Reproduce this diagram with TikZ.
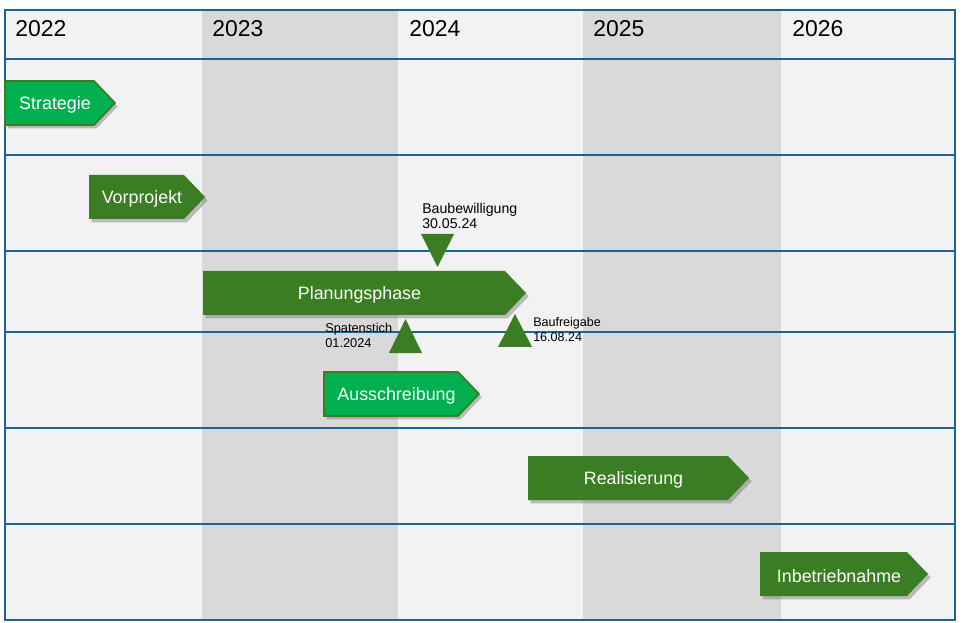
\documentclass[tikz,border=0pt]{standalone}
\usepackage{fontspec}
\setmainfont{Liberation Sans}
\usetikzlibrary{shadows}
\definecolor{bgl}{HTML}{F2F2F2}
\definecolor{bgd}{HTML}{D9D9D9}
\definecolor{gridc}{HTML}{1F6391}
\definecolor{dkgreen}{HTML}{3A7D22}
\definecolor{brgreen}{HTML}{00B050}
\tikzset{
  gridline/.style={draw=gridc, line width=0.8pt},
  year/.style={anchor=base west, inner sep=0pt, font=\fontsize{17.2}{20}\selectfont, text=black},
  bartext/.style={inner sep=0pt, text=white, font=\fontsize{13.4}{15}\selectfont},
  darkbar/.style={fill=dkgreen, drop shadow={shadow xshift=2pt, shadow yshift=-2.5pt, opacity=0.4, fill=black!60}},
  brightbar/.style={fill=brgreen, draw=dkgreen, line width=1.3pt, drop shadow={shadow xshift=2pt, shadow yshift=-2.5pt, opacity=0.4, fill=black!60}},
  milestone/.style={fill=dkgreen},
  mslabel/.style={anchor=base west, inner sep=0pt, align=left, text=black},
}
\newcommand\gbar[6]{%
  \path[#5] (#2,#4) -- ({#3-21},#4) -- (#3,{#4+22}) -- ({#3-21},{#4+44}) -- (#2,{#4+44}) -- cycle;
  \node[bartext] (#1) at ({(#2+#3)/2-5},{#4+24}) {#6};}
\begin{document}
\begin{tikzpicture}[x=0.75pt,y=-0.75pt]
\useasboundingbox (0,0) rectangle (963,623);
% background
\fill[bgl] (5,10) rectangle (955,620);
\fill[bgd] (202,10) rectangle (398,620);
\fill[bgd] (583,10) rectangle (781,620);
\foreach \yy in {59,155,251,332,428,524}
  \draw[gridline] (5,\yy) -- (955,\yy);
\draw[gridline] (5,10) rectangle (955,620);
% years
\node[year] (y2022) at (15,37) {2022};
\node[year] (y2023) at (212,37) {2023};
\node[year] (y2024) at (409,37) {2024};
\node[year] (y2025) at (593,37) {2025};
\node[year] (y2026) at (792,37) {2026};
% bars
\gbar{strategie}{5}{115}{81}{brightbar}{Strategie}
\gbar{vorprojekt}{89}{205}{175}{darkbar}{Vorprojekt}
\gbar{planung}{203}{526}{271}{darkbar}{Planungsphase}
\gbar{ausschreibung}{324}{479}{372}{brightbar}{Ausschreibung}
\gbar{realisierung}{528}{749}{456}{darkbar}{Realisierung}
\gbar{inbetrieb}{760}{928}{552}{darkbar}{Inbetriebnahme}
% milestones
\fill[milestone] (421,234) -- (454,234) -- (437.5,267) -- cycle;
\fill[milestone] (389,353) -- (422,353) -- (405.5,319) -- cycle;
\fill[milestone] (498,347) -- (532,347) -- (515,314) -- cycle;
\node[mslabel, font=\fontsize{10.6}{11.5}\selectfont] (baubew) at (422,228.5) {Baubewilligung\\30.05.24};
\node[mslabel, font=\fontsize{9.6}{11.5}\selectfont] (spaten) at (325,347.5) {Spatenstich\\01.2024};
\node[mslabel, font=\fontsize{9.4}{11.2}\selectfont] (baufrei) at (533,341) {Baufreigabe\\16.08.24};
\end{tikzpicture}
\end{document}
